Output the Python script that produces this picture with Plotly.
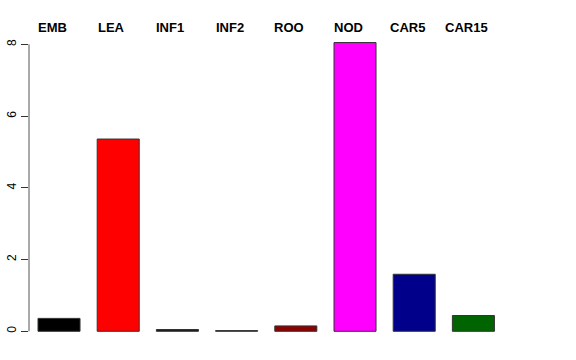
import plotly.graph_objects as go

categories = ["EMB", "LEA", "INF1", "INF2", "ROO", "NOD", "CAR5", "CAR15"]
values = [0.36, 5.36, 0.05, 0.02, 0.15, 8.05, 1.59, 0.44]
colors = ["#000000", "#FF0000", "#1a1a1a", "#555555", "#8B0000", "#FF00FF", "#00008B", "#006400"]
y_ticks = [0, 2, 4, 6, 8]

W, H = 576, 360
L, R, T, B = 29, 56, 30, 15

x_idx = list(range(len(categories)))

fig = go.Figure()
fig.add_trace(go.Bar(
    x=x_idx, y=values,
    marker=dict(color=colors, line=dict(color="#333333", width=1)),
    width=0.71,
    showlegend=False,
    hoverinfo="skip",
))

for i, c in enumerate(categories):
    fig.add_annotation(
        x=i, y=1.0095, xref="x", yref="paper", text="<b>%s</b>" % c,
        showarrow=False, xanchor="center", yanchor="middle", xshift=-7,
        font=dict(family="Liberation Sans, Arial, sans-serif", size=13, color="black"),
    )

# R-style y axis line spanning only the tick range
fig.add_shape(type="line", xref="paper", yref="y", x0=0, x1=0,
              y0=min(y_ticks), y1=max(y_ticks), line=dict(color="#555555", width=1))

fig.update_layout(
    width=W, height=H,
    margin=dict(l=L, r=R, t=T, b=B, autoexpand=False),
    paper_bgcolor="white", plot_bgcolor="white",
    font=dict(family="Liberation Sans, Arial, sans-serif", size=12, color="black"),
    xaxis=dict(range=[-0.507, 7.787], showline=False, showgrid=False, zeroline=False,
               showticklabels=False, ticks=""),
    yaxis=dict(range=[-0.382, 8.40], tickvals=y_ticks, ticktext=[str(v) for v in y_ticks],
               ticks="outside", ticklen=7, tickcolor="#333333", tickwidth=1,
               showline=False, showgrid=False, zeroline=False, tickangle=-90,
               tickfont=dict(size=12), automargin=False),
    bargap=0.29,
)

fig.write_html("out.html", config={"displayModeBar": False},
               post_script="document.body.style.margin='0';document.body.style.overflow='hidden';")
